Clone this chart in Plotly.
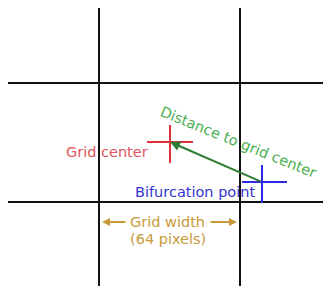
import plotly.graph_objects as go

W, H = 331, 286
OFF = 8  # page body margin
grid_x = [99, 240]
grid_y = [83, 202]
red_center = (170, 142)
red_arm_h, red_arm_v = (23, 23), (17, 21)
blue_center = (262, 182)
blue_arm_h, blue_arm_v = (20, 25), (17, 21)

fig = go.Figure()
for gx in grid_x:
    fig.add_trace(go.Scatter(x=[gx, gx], y=[4, H], mode="lines",
                             line=dict(color="#111111", width=2), hoverinfo="skip"))
for gy in grid_y:
    fig.add_trace(go.Scatter(x=[6, W], y=[gy, gy], mode="lines",
                             line=dict(color="#111111", width=2), hoverinfo="skip"))

def cross(c, ah, av, color):
    cx, cy = c
    fig.add_trace(go.Scatter(x=[cx - ah[0], cx + ah[1], None, cx, cx],
                             y=[cy, cy, None, cy - av[0], cy + av[1]],
                             mode="lines", line=dict(color=color, width=2), hoverinfo="skip"))

cross(red_center, red_arm_h, red_arm_v, "#e0303a")
cross(blue_center, blue_arm_h, blue_arm_v, "#2a2ae0")

font = "DejaVu Sans, Verdana, sans-serif"
FS = 14.5
fig.add_annotation(x=red_center[0], y=red_center[1], ax=blue_center[0], ay=blue_center[1],
                   xref="x", yref="y", axref="x", ayref="y", text="", showarrow=True,
                   arrowhead=2, arrowsize=1, arrowwidth=2, arrowcolor="#2e7d32")
fig.add_annotation(x=238, y=142, xref="x", yref="y", text="Distance to grid center",
                   showarrow=False, textangle=22, font=dict(family=font, size=FS, color="#4aae50"))
fig.add_annotation(x=107, y=152, xref="x", yref="y", text="Grid center",
                   showarrow=False, font=dict(family=font, size=FS, color="#e05560"))
fig.add_annotation(x=195, y=192, xref="x", yref="y", text="Bifurcation point",
                   showarrow=False, font=dict(family=font, size=FS, color="#3535d0"))
gold = "#c89a3a"
fig.add_annotation(x=167, y=222, xref="x", yref="y", text="Grid width",
                   showarrow=False, font=dict(family=font, size=FS, color=gold))
fig.add_annotation(x=168, y=239, xref="x", yref="y", text="(64 pixels)",
                   showarrow=False, font=dict(family=font, size=FS, color=gold))
fig.add_annotation(x=102, y=222, ax=127, ay=222, xref="x", yref="y", axref="x", ayref="y",
                   text="", showarrow=True, arrowhead=2, arrowsize=0.8, arrowwidth=2, arrowcolor=gold)
fig.add_annotation(x=237, y=222, ax=209, ay=222, xref="x", yref="y", axref="x", ayref="y",
                   text="", showarrow=True, arrowhead=2, arrowsize=0.8, arrowwidth=2, arrowcolor=gold)

fig.update_layout(width=W - OFF, height=H - OFF, margin=dict(l=0, r=0, t=0, b=0),
                  paper_bgcolor="white", plot_bgcolor="white", showlegend=False,
                  xaxis=dict(range=[OFF, W], visible=False, fixedrange=True),
                  yaxis=dict(range=[H, OFF], visible=False, fixedrange=True))
fig.write_html("out.html", config={"displayModeBar": False})
